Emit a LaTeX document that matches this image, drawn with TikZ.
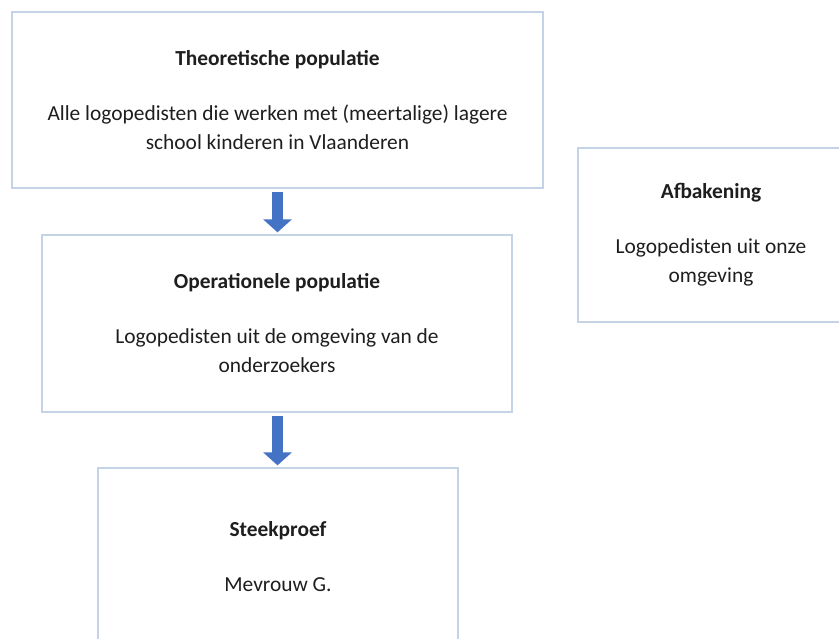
\documentclass[tikz,border=0pt]{standalone}
\usepackage{fontspec}
\setmainfont{Carlito}
\usetikzlibrary{arrows.meta}
\definecolor{boxline}{RGB}{196,212,230}
\definecolor{arrowblue}{RGB}{68,114,196}
\definecolor{txt}{RGB}{30,30,30}
\tikzset{
  x=1pt, y=1pt,
  popbox/.style={draw=boxline, line width=1.3pt, fill=white, inner sep=0pt, text=txt,
    font=\fontsize{21.4}{29}\selectfont, align=center},
  flowarrow/.style={draw=arrowblue, line width=11pt,
    -{Triangle[width=28pt,length=13pt]}, shorten >=2pt, shorten <=3pt}
}
\newcommand{\ttl}[1]{\textbf{#1}\\[26pt]}
\begin{document}
\begin{tikzpicture}
\useasboundingbox (0,0) rectangle (839,-638);
\node[popbox, minimum width=531pt, minimum height=176pt] (theo) at (277.5,-100)
  {\ttl{Theoretische populatie}Alle logopedisten die werken met (meertalige) lagere\\school kinderen in Vlaanderen};
\node[popbox, minimum width=470pt, minimum height=177pt] (oper) at (277,-323.5)
  {\ttl{Operationele populatie}Logopedisten uit de omgeving van de\\onderzoekers};
\node[popbox, minimum width=360pt, minimum height=178pt] (steek) at (278,-557)
  {\ttl{Steekproef}Mevrouw G.};
\node[popbox, minimum width=266pt, minimum height=174pt] (afb) at (711,-235)
  {\ttl{Afbakening}Logopedisten uit onze\\omgeving};
\draw[flowarrow] (theo.south -| 277.5,0) -- (oper.north -| 277.5,0);
\draw[flowarrow] (oper.south -| 277.5,0) -- (steek.north -| 277.5,0);
\end{tikzpicture}
\end{document}
